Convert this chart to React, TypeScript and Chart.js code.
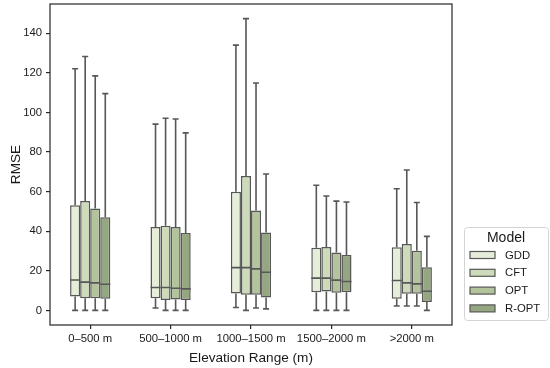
import React, { useEffect, useRef } from "react";
import { Chart, registerables } from "chart.js";

Chart.register(...registerables);

const categories = ["0–500 m", "500–1000 m", "1000–1500 m", "1500–2000 m", ">2000 m"];
const models = ["GDD", "CFT", "OPT", "R-OPT"];
const colors = ["#e6eed9", "#cedbba", "#b3c49c", "#94a781"];
const yTicks = [0, 20, 40, 60, 80, 100, 120, 140];

// [min, q1, median, q3, max] per elevation range
const GDD = [[0, 7.0, 15.4, 53.1, 122.1], [1.2, 6.2, 11.6, 42.1, 94.1], [1.5, 8.6, 21.6, 59.9, 134.0], [0, 9.2, 16.3, 31.7, 63.2], [2.2, 5.9, 15.1, 31.9, 61.5]];
const CFT = [[0, 6.2, 14.3, 55.3, 128.3], [0, 5.2, 11.6, 42.8, 97.1], [0, 7.9, 21.6, 67.9, 147.4], [0, 9.6, 16.3, 32.0, 57.8], [2.2, 8.4, 13.9, 33.5, 70.9]];
const OPT = [[0, 6.2, 13.9, 51.5, 118.5], [0, 5.5, 11.2, 42.1, 96.7], [1.2, 7.9, 21.0, 50.5, 114.9], [0, 8.9, 15.3, 29.3, 55.2], [2.2, 8.4, 13.4, 30.2, 54.5]];
const ROPT = [[0, 5.9, 13.2, 47.1, 109.5], [0, 5.2, 10.9, 39.1, 89.7], [0.8, 6.5, 19.3, 39.4, 68.9], [0, 9.2, 14.6, 28.0, 54.8], [0, 4.2, 9.7, 21.8, 37.4]];

const seriesStats = [GDD, CFT, OPT, ROPT];

const FONT = "'Liberation Sans', Arial, sans-serif";
const LINE = "#575757";
const AXIS = "#262626";

const boxPlugin = {
  id: "boxWhiskers",
  afterDatasetsDraw(chart: any) {
    const ctx = chart.ctx;
    const y = chart.scales.y;
    ctx.save();
    ctx.strokeStyle = LINE;
    ctx.lineWidth = 1.6;
    seriesStats.forEach((stats, i) => {
      const meta = chart.getDatasetMeta(i);
      meta.data.forEach((bar: any, j: number) => {
        const { x, width } = bar.getProps(["x", "width"], true);
        const s = stats[j];
        const cap = width * 0.6;
        const yMin = y.getPixelForValue(s[0]);
        const yQ1 = y.getPixelForValue(s[1]);
        const yMed = y.getPixelForValue(s[2]);
        const yQ3 = y.getPixelForValue(s[3]);
        const yMax = y.getPixelForValue(s[4]);
        ctx.beginPath();
        ctx.moveTo(x, yQ3);
        ctx.lineTo(x, yMax);
        ctx.moveTo(x - cap / 2, yMax);
        ctx.lineTo(x + cap / 2, yMax);
        ctx.moveTo(x, yQ1);
        ctx.lineTo(x, yMin);
        ctx.moveTo(x - cap / 2, yMin);
        ctx.lineTo(x + cap / 2, yMin);
        ctx.moveTo(x - width / 2, yMed);
        ctx.lineTo(x + width / 2, yMed);
        ctx.stroke();
      });
    });
    ctx.restore();
  },
  afterDraw(chart: any) {
    const ctx = chart.ctx;
    const a = chart.chartArea;
    ctx.save();
    // frame
    ctx.strokeStyle = AXIS;
    ctx.lineWidth = 1.2;
    ctx.strokeRect(a.left, a.top, a.right - a.left, a.bottom - a.top);
    // legend
    const lx = 464, ly = 227, lw = 84, lh = 93;
    ctx.fillStyle = "rgba(255,255,255,0.8)";
    ctx.strokeStyle = "#d4d4d4";
    ctx.lineWidth = 1;
    ctx.beginPath();
    (ctx as any).roundRect(lx + 0.5, ly + 0.5, lw, lh, 3);
    ctx.fill();
    ctx.stroke();
    ctx.fillStyle = "#1a1a1a";
    ctx.textAlign = "center";
    ctx.textBaseline = "middle";
    ctx.font = `14px ${FONT}`;
    ctx.fillText("Model", lx + lw / 2, ly + 11);
    ctx.font = `11.3px ${FONT}`;
    ctx.textAlign = "left";
    models.forEach((m, i) => {
      const cy = ly + 28 + i * 17.8;
      ctx.fillStyle = colors[i];
      ctx.fillRect(470, cy - 3.5, 25, 7);
      ctx.strokeStyle = LINE;
      ctx.lineWidth = 1.2;
      ctx.strokeRect(470, cy - 3.5, 25, 7);
      ctx.fillStyle = "#1a1a1a";
      ctx.fillText(m, 505, cy + 0.5);
    });
    ctx.restore();
  },
};

export default function App() {
  const ref = useRef<HTMLCanvasElement>(null);
  useEffect(() => {
    document.body.style.margin = "0";
    const chart = new Chart(ref.current!, {
      type: "bar",
      data: {
        labels: categories,
        datasets: models.map((m, i) => ({
          label: m,
          data: seriesStats[i].map((s) => [s[1], s[3]] as [number, number]),
          backgroundColor: colors[i],
          borderColor: LINE,
          borderWidth: 1.5,
          borderSkipped: false,
          categoryPercentage: 0.5,
          barPercentage: 1.0,
        })),
      },
      options: {
        responsive: false,
        animation: false,
        layout: { padding: { left: 0, right: 98, top: 4, bottom: 0 } },
        plugins: { legend: { display: false }, tooltip: { enabled: false } },
        scales: {
          x: {
            type: "category",
            offset: true,
            grid: { display: true, offset: false, drawOnChartArea: false, drawTicks: true, tickLength: 4, color: AXIS, lineWidth: 1.2 },
            border: { display: false },
            ticks: { color: "#1a1a1a", font: { family: FONT, size: 11.3 }, padding: 3, maxRotation: 0, autoSkip: false },
            title: { display: true, text: "Elevation Range (m)", color: "#1a1a1a", font: { family: FONT, size: 13.6 }, padding: { top: 0, bottom: 2 } },
            afterFit: (s: any) => { s.height = 43; s.paddingLeft = 0; s.paddingRight = 0; },
          },
          y: {
            type: "linear",
            min: -7.37,
            max: 154.8,
            afterBuildTicks: (s: any) => { s.ticks = yTicks.map((v) => ({ value: v })); },
            grid: { display: true, drawOnChartArea: false, drawTicks: true, tickLength: 4, color: AXIS, lineWidth: 1.2 },
            border: { display: false },
            ticks: { color: "#1a1a1a", font: { family: FONT, size: 11.3 }, padding: 4 },
            title: { display: true, text: "RMSE", color: "#1a1a1a", font: { family: FONT, size: 13.6 }, padding: { top: 8, bottom: 0 } },
            afterFit: (s: any) => { s.width = 50; s.paddingTop = 0; s.paddingBottom = 0; },
          },
        },
      },
      plugins: [boxPlugin],
    });
    return () => chart.destroy();
  }, []);
  return (
    <div style={{ width: 550, height: 368 }}>
      <canvas ref={ref} width={550} height={368} />
    </div>
  );
}
